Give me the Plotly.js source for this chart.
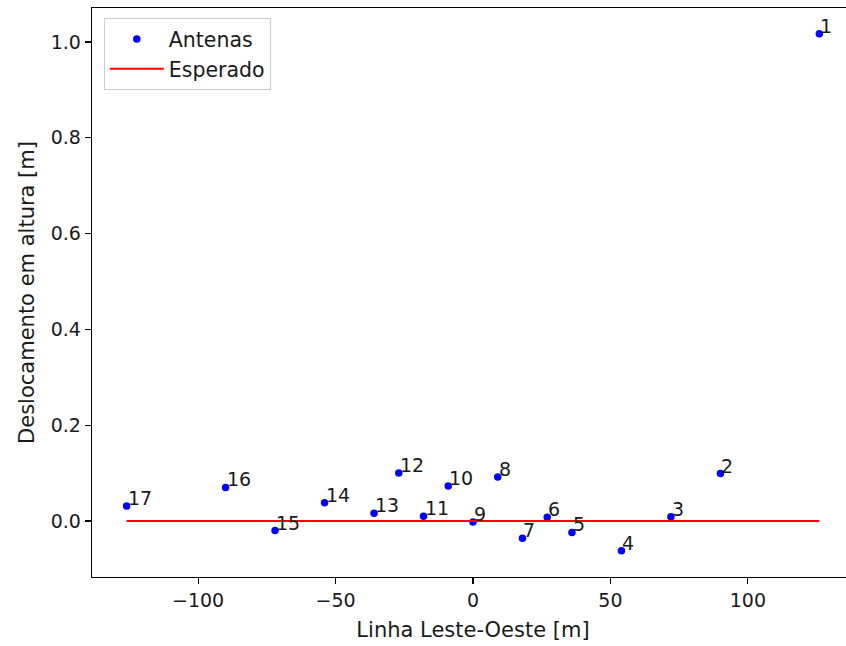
<!DOCTYPE html>
<html>
<head>
<meta charset="utf-8">
<script src="https://cdn.plot.ly/plotly-3.0.1.min.js"></script>
<style>
html, body { margin: 0; padding: 0; overflow: hidden; background: #fff; }
#chart { width: 862px; height: 646px; }
</style>
</head>
<body>
<div id="chart"></div>
<script>
// Antenna positions along the East-West line [m]
const antennaX = [126, 90, 72, 54, 36, 27, 18, 9, 0, -9, -18, -27, -36, -54, -72, -90, -126];
// Height displacement [m]
const antennaY = [1.017, 0.099, 0.009, -0.062, -0.024, 0.008, -0.036, 0.092, -0.002, 0.073, 0.010, 0.100, 0.016, 0.038, -0.020, 0.070, 0.031];
// Labels of the antennas
const antennaLabels = ['1','2','3','4','5','6','7','8','9','10','11','12','13','14','15','16','17'];
// Expected line
const expectedX = [-126, 126];
const expectedY = [0, 0];

const FONT = 'DejaVu Sans, sans-serif';
const TXT = '#1a1a1a';

const traces = [
  {
    x: antennaX, y: antennaY, mode: 'markers', type: 'scatter', name: 'Antenas',
    marker: { color: '#0000ff', size: 7.5 }
  },
  {
    x: expectedX, y: expectedY, mode: 'lines', type: 'scatter', name: 'Esperado',
    line: { color: '#ff0000', width: 2 }
  }
];

const annotations = antennaX.map((x, i) => ({
  x: x, y: antennaY[i], text: antennaLabels[i], showarrow: false,
  xanchor: 'left', yanchor: 'bottom', xshift: -1, yshift: -5,
  font: { family: FONT, size: 19, color: TXT }
}));

const layout = {
  width: 862, height: 646,
  margin: { l: 92, r: 8, t: 8, b: 69 },
  paper_bgcolor: '#fff', plot_bgcolor: '#fff',
  showlegend: true,
  legend: {
    x: 0.0155, y: 0.982, xanchor: 'left', yanchor: 'top',
    bgcolor: 'rgba(255,255,255,0.8)', bordercolor: '#cccccc', borderwidth: 1,
    font: { family: FONT, size: 20.5, color: TXT },
    tracegroupgap: 0, itemwidth: 54
  },
  xaxis: {
    range: [-138.6, 138.6], tickvals: [-100, -50, 0, 50, 100],
    ticktext: ['\u2212100', '\u221250', '0', '50', '100'],
    showgrid: false, zeroline: false,
    showline: true, linecolor: '#000', linewidth: 1.3, mirror: true,
    ticks: 'outside', ticklen: 6, tickwidth: 1.2, tickcolor: '#000',
    tickfont: { family: FONT, size: 19, color: TXT },
    title: { text: 'Linha Leste-Oeste [m]', font: { family: FONT, size: 21, color: TXT }, standoff: 12 }
  },
  yaxis: {
    range: [-0.117, 1.071], tickvals: [0, 0.2, 0.4, 0.6, 0.8, 1.0],
    ticktext: ['0.0', '0.2', '0.4', '0.6', '0.8', '1.0'],
    showgrid: false, zeroline: false,
    showline: true, linecolor: '#000', linewidth: 1.3, mirror: true,
    ticks: 'outside', ticklen: 6, tickwidth: 1.2, tickcolor: '#000',
    tickfont: { family: FONT, size: 19, color: TXT },
    title: { text: 'Deslocamento em altura [m]', font: { family: FONT, size: 21, color: TXT }, standoff: 10 }
  },
  annotations: annotations
};

Plotly.newPlot('chart', traces, layout, { displayModeBar: false, staticPlot: true });
</script>
</body>
</html>
